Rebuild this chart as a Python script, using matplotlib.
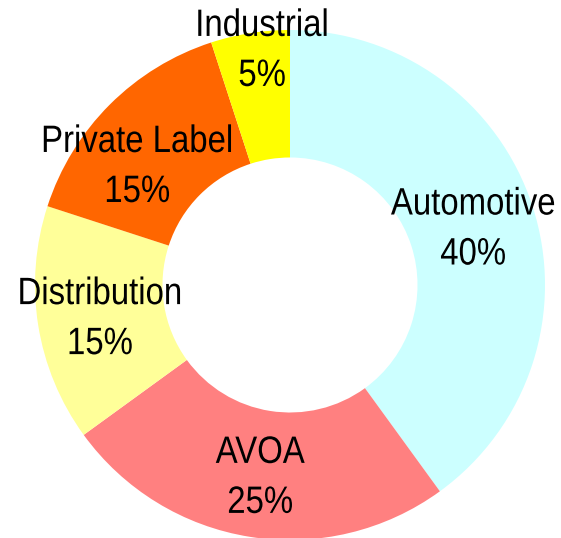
import numpy as np
import matplotlib
matplotlib.use("Agg")
import matplotlib.pyplot as plt
from matplotlib.patheffects import AbstractPathEffect
from matplotlib.transforms import Affine2D, offset_copy

categories = ["Automotive", "AVOA", "Distribution", "Private Label", "Industrial"]
shares = [40, 25, 15, 15, 5]
colors = ["#CCFFFF", "#FF8080", "#FFFF99", "#FF6600", "#FFFF00"]

# label placement: radius (fraction of outer radius) and angular nudge (deg)
label_radius = [0.755, 0.75, 0.755, 0.767, 0.94]
label_nudge = [0.0, 0.0, 0.0, 6.4, -2.3]

plt.rcParams["font.family"] = ["Liberation Sans", "DejaVu Sans"]


class Tall(AbstractPathEffect):
    """Stretch glyphs vertically about their baseline (narrow-font look)."""
    def __init__(self, sy):
        super().__init__()
        self.sy = sy

    def draw_path(self, renderer, gc, tpath, affine, rgbFace=None):
        renderer.draw_path(gc, tpath, Affine2D().scale(1, self.sy) + affine, rgbFace)


fig = plt.figure(figsize=(5.61, 5.38), dpi=100)
ax = fig.add_axes([0, 0, 1, 1])

wedges, _ = ax.pie(shares, colors=colors, startangle=90, counterclock=False,
                   radius=1.0, wedgeprops=dict(width=0.5, linewidth=0))

tall = [Tall(1.16)]
for w, name, pct, r, nd in zip(wedges, categories, shares, label_radius, label_nudge):
    mid = np.deg2rad((w.theta1 + w.theta2) / 2 + nd)
    x, y = r * np.cos(mid), r * np.sin(mid)
    ax.text(x, y, name, ha="center", va="baseline", fontsize=23.7,
            transform=offset_copy(ax.transData, fig, y=11, units="dots"),
            path_effects=tall)
    ax.text(x, y, f"{pct}%", ha="center", va="baseline", fontsize=23.7,
            transform=offset_copy(ax.transData, fig, y=-39, units="dots"),
            path_effects=tall)

# centre at (290, 285) px from top, radius ~255 px
s = 255.0
ax.set_xlim(-290 / s, (561 - 290) / s)
ax.set_ylim(-(538 - 285) / s, 285 / s)
ax.set_aspect("auto")
ax.axis("off")

fig.savefig("out.png", dpi=100)
